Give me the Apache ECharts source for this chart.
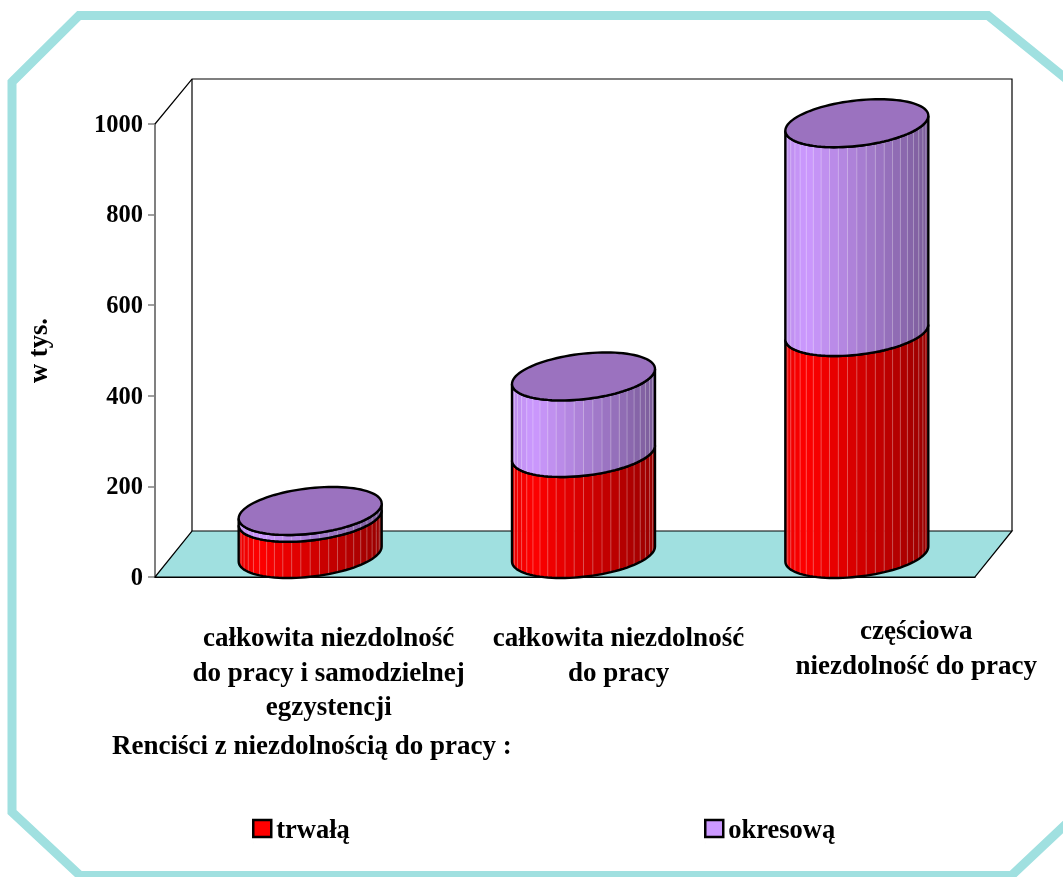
<!DOCTYPE html>
<html><head><meta charset="utf-8">
<style>html,body{margin:0;padding:0;background:#fff}#c{width:1063px;height:877px}</style>
<script src="https://cdn.jsdelivr.net/npm/echarts@6/dist/echarts.min.js"></script>
</head><body><div id="c"></div>
<script>
const categories = ['całkowita niezdolność\ndo pracy i samodzielnej\negzystencji','całkowita niezdolność\ndo pracy','częściowa\nniezdolność do pracy'];
const trwala = [80, 223, 490];
const okresowa = [15, 169, 461];
const yTicks = [0, 200, 400, 600, 800, 1000];
const labelShift = [37, 53.5, 78];
const labelDrop = [7, 7, 0];

const FONT = '"Liberation Serif","Times New Roman",serif';
const TEAL = '#a0e0e0';
const DX = 37, DY = -46;          // depth of the 3-D box
const A = 71.5, K = 22.8, S = 7.5; // cylinder ellipse
const N = 24;
const LEGEND_ICON = 'path://M0 0H18V17H0Z M0 23L0.01 23';

const chart = echarts.init(document.getElementById('c'), null, {renderer:'canvas'});

function pt(cx, cy, t){ return [cx + A*Math.cos(t), cy - S*Math.cos(t) + K*Math.sin(t)]; }
function bright(u){ return u < 0.15 ? 0.92 + 0.08*u/0.15 : 1 - 0.4*(u-0.15)/0.85; }
function shade(rgb, f){ return 'rgb(' + rgb.map(c => Math.round(c*f)).join(',') + ')'; }

function segment(api, from, to, rgb, withTop){
  const cat = api.value(0);
  const base = api.coord([cat, from]);
  const top = api.coord([cat, to]);
  const cx = base[0] + DX/2, y0 = base[1] + DY/2, y1 = top[1] + DY/2;
  const children = [];
  for (let i = 0; i < N; i++){
    const t1 = Math.PI - Math.PI*i/N, t2 = Math.PI - Math.PI*(i+1)/N;
    const p1 = pt(cx,y0,t1), p2 = pt(cx,y0,t2), p3 = pt(cx,y1,t2), p4 = pt(cx,y1,t1);
    const u = (((p1[0]+p2[0])/2) - (cx-A)) / (2*A);
    children.push({type:'polygon', shape:{points:[p1,p2,p3,p4]}, style:{fill:shade(rgb,bright(u)), stroke:shade(rgb,bright(u)), lineWidth:0.5}});
    if (i > 0) children.push({type:'line', shape:{x1:p1[0],y1:p1[1],x2:p4[0],y2:p4[1]}, style:{stroke:'rgba(255,255,255,0.28)', lineWidth:1}});
  }
  const outline = [];
  for (let i = 0; i <= 48; i++) outline.push(pt(cx,y1,Math.PI - Math.PI*i/48));
  for (let i = 0; i <= 48; i++) outline.push(pt(cx,y0,Math.PI*i/48));
  children.push({type:'polygon', shape:{points:outline}, style:{fill:'none', stroke:'#000', lineWidth:2.4}});
  if (withTop){
    const e = [];
    for (let i = 0; i < 96; i++) e.push(pt(cx,y1,2*Math.PI*i/96));
    children.push({type:'polygon', shape:{points:e}, style:{fill:'#9b72bf', stroke:'#000', lineWidth:2.4}});
  }
  return {type:'group', children};
}

function frame(params, api){
  const o = api.coord([0,0]);
  const t = api.coord([0,1000]);
  const xmax = params.coordSys.x + params.coordSys.width;
  const x0 = params.coordSys.x, y0 = o[1], yT = t[1];
  const s = {fill:'none', stroke:'#000', lineWidth:1.2};
  return {type:'group', children:[
    {type:'polygon', shape:{points:[[x0,y0],[xmax,y0],[xmax+DX,y0+DY],[x0+DX,y0+DY]]}, style:{fill:TEAL, stroke:'#000', lineWidth:1.2}},
    {type:'polyline', shape:{points:[[x0,yT],[x0+DX,yT+DY+1],[xmax+DX,yT+DY+1],[xmax+DX,y0+DY]]}, style:s},
    {type:'line', shape:{x1:x0+DX,y1:yT+DY+1,x2:x0+DX,y2:y0+DY}, style:s}
  ]};
}

chart.setOption({
  animation:false,
  backgroundColor:'#fff',
  title:{text:'Renciści z niezdolnością do pracy :', left:112, top:734, padding:0,
    textStyle:{fontFamily:FONT,fontWeight:'bold',fontSize:27,color:'#000'}},
  legend:[
    {left:252, top:818, padding:0, data:['trwałą'], itemWidth:18, itemHeight:23, itemGap:8, icon:LEGEND_ICON,
      itemStyle:{borderColor:'#000',borderWidth:2.5},
      textStyle:{fontFamily:FONT,fontWeight:'bold',fontSize:26.5,color:'#000'}},
    {left:704, top:818, padding:0, data:['okresową'], itemWidth:18, itemHeight:23, itemGap:8, icon:LEGEND_ICON,
      itemStyle:{borderColor:'#000',borderWidth:2.5},
      textStyle:{fontFamily:FONT,fontWeight:'bold',fontSize:26.5,color:'#000'}}
  ],
  grid:{left:155, top:124, width:820, height:453, containLabel:false, outerBoundsMode:'none'},
  xAxis:{type:'category', data:categories.map((c,i)=>({value:c, textStyle:{padding:[labelDrop[i],0,0,labelShift[i]*2]}})),
    boundaryGap:true,
    axisLine:{show:true,lineStyle:{color:'#000',width:1.2}}, axisTick:{show:false},
    axisLabel:{interval:0, margin:38, lineHeight:34.5, fontFamily:FONT, fontWeight:'bold', fontSize:27, color:'#000', align:'center', hideOverlap:false}},
  yAxis:{type:'value', min:yTicks[0], max:yTicks[yTicks.length-1], interval:yTicks[1]-yTicks[0],
    name:'w tys.', nameLocation:'middle', nameGap:101, nameRotate:90,
    nameTextStyle:{fontFamily:FONT,fontWeight:'bold',fontSize:26.5,color:'#000'},
    axisLine:{show:true,lineStyle:{color:'#808080',width:2}},
    axisTick:{show:true,length:7,lineStyle:{color:'#808080',width:1.5}},
    splitLine:{show:false},
    axisLabel:{margin:12,verticalAlign:'top',lineHeight:3,formatter:v=>String(v),fontFamily:FONT,fontWeight:'bold',fontSize:24.5,color:'#000'}},
  graphic:[{type:'polygon', silent:true, z:-1,
    shape:{points:[[12,82],[79,15.5],[988,15.5],[1080,90],[1080,811],[1011.5,875.5],[80,875.5],[12,812]]},
    style:{fill:'none',stroke:TEAL,lineWidth:9}}],
  series:[
    {type:'custom', name:'frame', silent:true, z:1, clip:false, data:[[0]], renderItem:frame, encode:{x:0}},
    {type:'custom', name:'trwałą', z:3, clip:false, itemStyle:{color:'#ff0000'},
      data:trwala.map((v,i)=>[i,v]), encode:{x:0,y:1},
      renderItem:(p,api)=>segment(api,0,api.value(1),[255,0,0],false)},
    {type:'custom', name:'okresową', z:4, clip:false, itemStyle:{color:'#cc99ff'},
      data:okresowa.map((v,i)=>[i,v,trwala[i]]), encode:{x:0,y:1},
      renderItem:(p,api)=>segment(api,api.value(2),api.value(2)+api.value(1),[204,153,255],true)}
  ]
});
</script></body></html>
